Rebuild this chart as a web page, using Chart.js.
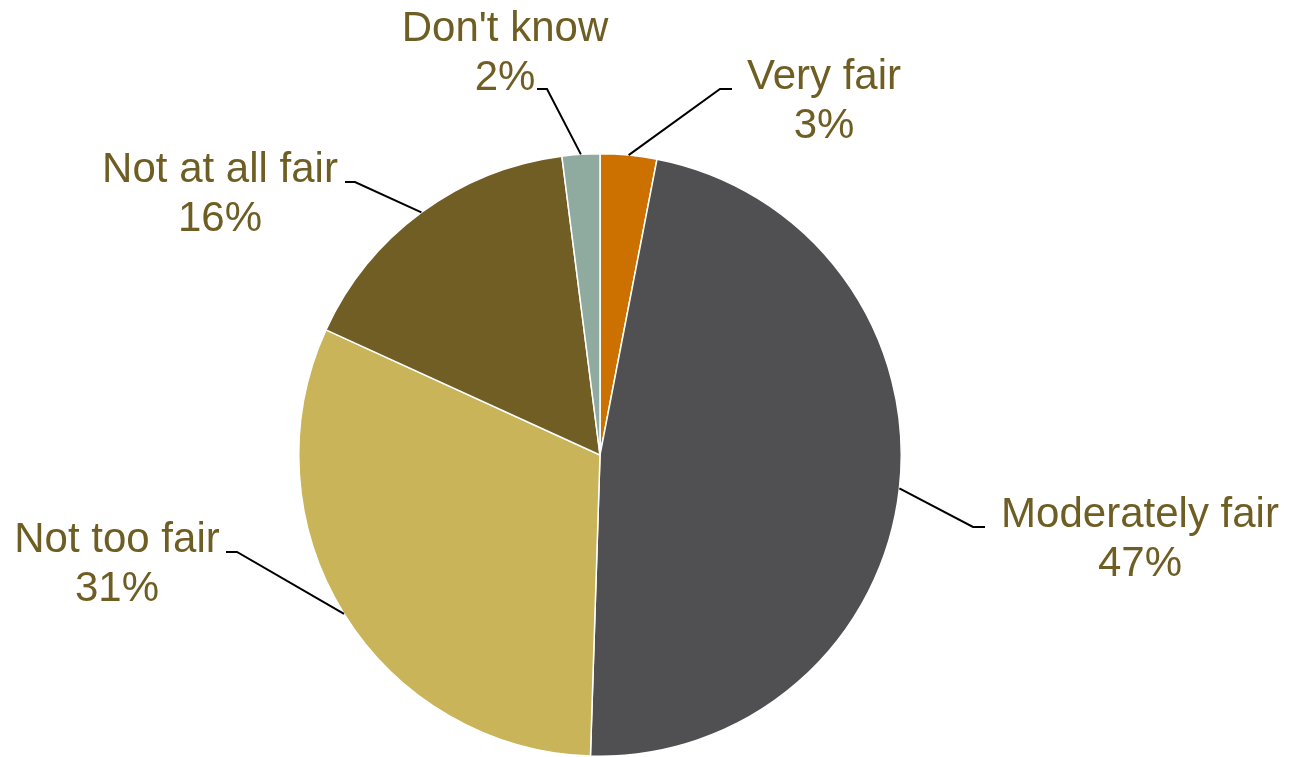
<!DOCTYPE html>
<html>
<head>
<meta charset="utf-8">
<script src="https://cdn.jsdelivr.net/npm/chart.js@4/dist/chart.umd.min.js"></script>
<style>
  html, body { margin: 0; padding: 0; background: #fff; }
  #wrap { width: 1292px; height: 757px; position: relative; }
</style>
</head>
<body>
<div id="wrap"><canvas id="pieChart"></canvas></div>
<script>
// Survey answers, clockwise from 12 o'clock
const answerLabels = ['Very fair', 'Moderately fair', 'Not too fair', 'Not at all fair', "Don't know"];
const answerShares = [3, 47, 31, 16, 2];
const sliceColors = ['#CC7000', '#505052', '#C9B45A', '#715E24', '#8FAA9E'];

// where each callout sits: text centre, first baseline, elbow and stub end of the leader line
const calloutLayout = [
    { cx: 824, y: 89, elbowX: 720, elbowY: 89, stubX: 732 },
    { cx: 1140, y: 527, elbowX: 973, elbowY: 527, stubX: 985 },
    { cx: 117, y: 552, elbowX: 237, elbowY: 552, stubX: 226 },
    { cx: 220, y: 182, elbowX: 355, elbowY: 182, stubX: 345 },
    { cx: 505, y: 41, elbowX: 547, elbowY: 89, stubX: 537 }
];

const calloutPlugin = {
    id: 'callouts',
    afterDraw(chart) {
        const ctx = chart.ctx;
        const arcs = chart.getDatasetMeta(0).data;
        ctx.save();
        arcs.forEach((arc, i) => {
            const lay = calloutLayout[i];
            const mid = (arc.startAngle + arc.endAngle) / 2;
            const px = arc.x + Math.cos(mid) * arc.outerRadius;
            const py = arc.y + Math.sin(mid) * arc.outerRadius;

            // leader line
            ctx.strokeStyle = '#000';
            ctx.lineWidth = 2;
            ctx.beginPath();
            ctx.moveTo(px, py);
            ctx.lineTo(lay.elbowX, lay.elbowY);
            ctx.lineTo(lay.stubX, lay.elbowY);
            ctx.stroke();

            // two-line text
            ctx.fillStyle = '#6F5E23';
            ctx.font = '42px "Liberation Sans", Arial, sans-serif';
            ctx.textAlign = 'center';
            ctx.textBaseline = 'alphabetic';
            ctx.fillText(answerLabels[i], lay.cx, lay.y);
            ctx.fillText(answerShares[i] + '%', lay.cx, lay.y + 49);
        });
        ctx.restore();
    }
};

const ctx = document.getElementById('pieChart').getContext('2d');
const pieChart = new Chart(ctx, {
    type: 'pie',
    data: {
        labels: answerLabels,
        datasets: [{
            data: answerShares,
            backgroundColor: sliceColors,
            borderColor: '#ffffff',
            borderWidth: 1.5
        }]
    },
    options: {
        responsive: true,
        maintainAspectRatio: false,
        animation: false,
        layout: {
            padding: { top: 153, bottom: 0, left: 0, right: 92 }
        },
        plugins: {
            legend: { display: false },
            tooltip: { enabled: false }
        }
    },
    plugins: [calloutPlugin]
});
</script>
</body>
</html>
